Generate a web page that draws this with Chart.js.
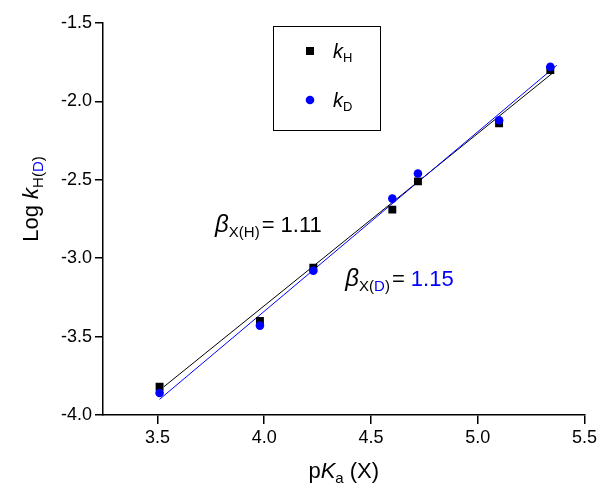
<!DOCTYPE html>
<html>
<head>
<meta charset="utf-8">
<script src="https://cdn.jsdelivr.net/npm/chart.js@4/dist/chart.umd.min.js"></script>
<style>
html,body{margin:0;padding:0;background:#fff;}
#wrap{width:600px;height:484px;position:relative;}
</style>
</head>
<body>
<div id="wrap"><canvas id="c" width="600" height="484"></canvas></div>
<script>
// Data
const pKa   = [3.51, 3.98, 4.23, 4.60, 4.72, 5.10, 5.34];
const logkH = [-3.82, -3.40, -3.06, -2.69, -2.51, -2.14, -1.80];
const logkD = [-3.86, -3.43, -3.08, -2.62, -2.46, -2.12, -1.78];
// fitted lines (endpoints)
const fitHx = [3.53, 5.35];
const fitHy = [-3.82, -1.82];
const fitDx = [3.51, 5.37];
const fitDy = [-3.90, -1.77];
const xTicks = [3.5, 4.0, 4.5, 5.0, 5.5];
const yTicks = [-4.0, -3.5, -3.0, -2.5, -2.0, -1.5];
const betaH = "1.11";
const betaD = "1.15";

const BLUE = '#0000ff';
const FONT = "'Liberation Sans', Arial, sans-serif";

function pts(xs, ys){ return xs.map((x,i)=>({x:x, y:ys[i]})); }

function drawRuns(ctx, x, y, runs){
  let cx = x;
  for (const r of runs){
    ctx.font = (r.italic ? 'italic ' : '') + r.size + 'px ' + FONT;
    ctx.fillStyle = r.color || '#000';
    ctx.textBaseline = 'alphabetic';
    ctx.textAlign = 'left';
    ctx.fillText(r.t, cx, y + (r.dy || 0));
    cx += ctx.measureText(r.t).width + (r.gap || 0);
  }
  return cx - x;
}
function runsWidth(ctx, runs){
  let w = 0;
  for (const r of runs){
    ctx.font = (r.italic ? 'italic ' : '') + r.size + 'px ' + FONT;
    w += ctx.measureText(r.t).width + (r.gap || 0);
  }
  return w;
}

const textPlugin = {
  id: 'textPlugin',
  afterDraw(chart){
    const ctx = chart.ctx;
    const xs = chart.scales.x, ys = chart.scales.y;
    const ca = chart.chartArea;
    ctx.save();
    // X title
    const xt = [
      {t:'p', size:22},
      {t:'K', size:22, italic:true},
      {t:'a', size:15, dy:5, gap:6},
      {t:'(X)', size:22}
    ];
    const wx = runsWidth(ctx, xt);
    drawRuns(ctx, (ca.left+ca.right)/2 - wx/2, 478, xt);

    // Y title (rotated)
    const yt = [
      {t:'Log ', size:22},
      {t:'k', size:22, italic:true},
      {t:'H(', size:15, dy:5},
      {t:'D', size:15, dy:5, color:BLUE},
      {t:')', size:15, dy:5}
    ];
    const wy = runsWidth(ctx, yt);
    ctx.save();
    ctx.translate(38, 199);
    ctx.rotate(-Math.PI/2);
    drawRuns(ctx, -wy/2, 0, yt);
    ctx.restore();

    // Beta annotations
    drawRuns(ctx, xs.getPixelForValue(3.77), ys.getPixelForValue(-2.83), [
      {t:'\u03B2', size:24, italic:true},
      {t:'X(H)', size:15, dy:5, gap:2},
      {t:'= ', size:22},
      {t:betaH, size:22}
    ]);
    drawRuns(ctx, xs.getPixelForValue(4.38), ys.getPixelForValue(-3.18), [
      {t:'\u03B2', size:24, italic:true},
      {t:'X(', size:15, dy:5},
      {t:'D', size:15, dy:5, color:BLUE},
      {t:')', size:15, dy:5, gap:2},
      {t:'= ', size:22},
      {t:betaD, size:22, color:BLUE}
    ]);

    // Legend box
    ctx.strokeStyle = '#000';
    ctx.lineWidth = 1;
    ctx.strokeRect(273.5, 26.5, 107, 104);
    ctx.fillStyle = '#000';
    ctx.fillRect(306, 47, 8, 8);
    ctx.fillStyle = BLUE;
    ctx.beginPath(); ctx.arc(310, 100, 4.3, 0, Math.PI*2); ctx.fill();
    drawRuns(ctx, 333, 58, [{t:'k', size:20, italic:true},{t:'H', size:13, dy:4}]);
    drawRuns(ctx, 333, 107, [{t:'k', size:20, italic:true},{t:'D', size:13, dy:4}]);
    ctx.restore();
  }
};

Chart.defaults.font.family = FONT;
Chart.defaults.color = '#000';

new Chart(document.getElementById('c'), {
  type: 'scatter',
  data: {
    datasets: [
      { label:'fitH', data: pts(fitHx, fitHy), showLine:true, borderColor:'#000', borderWidth:1, pointRadius:0, order:3 },
      { label:'fitD', data: pts(fitDx, fitDy), showLine:true, borderColor:BLUE, borderWidth:1, pointRadius:0, order:2 },
      { label:'kH', data: pts(pKa, logkH), pointStyle:'rect', pointRadius:5.6, backgroundColor:'#000', borderColor:'#000', borderWidth:0, order:1 },
      { label:'kD', data: pts(pKa, logkD), pointStyle:'circle', pointRadius:4.3, backgroundColor:BLUE, borderColor:BLUE, borderWidth:0, order:0 }
    ]
  },
  options: {
    responsive: false,
    animation: false,
    layout: { padding: { left:0, right:12, top:23, bottom:0 } },
    plugins: { legend:{display:false}, tooltip:{enabled:false} },
    scales: {
      x: {
        type:'linear', min:3.245, max:5.5,
        afterBuildTicks(s){ s.ticks = xTicks.map(v=>({value:v})); },
        afterFit(s){ s.height = 69; },
        grid: { drawOnChartArea:false, drawTicks:true, tickLength:9, color:'#000', lineWidth:1.5 },
        border: { display:true, color:'#000', width:1.5 },
        ticks: { font:{size:18}, color:'#000', padding:3, maxRotation:0,
          callback:(v)=>Number(v).toFixed(1) }
      },
      y: {
        type:'linear', min:-4.0, max:-1.5,
        afterBuildTicks(s){ s.ticks = yTicks.map(v=>({value:v})); },
        afterFit(s){ s.width = 103; },
        grid: { drawOnChartArea:false, drawTicks:true, tickLength:8, color:'#000', lineWidth:1.5 },
        border: { display:true, color:'#000', width:1.5 },
        ticks: { font:{size:18}, color:'#000', padding:3,
          callback:(v)=>Number(v).toFixed(1) }
      }
    }
  },
  plugins: [textPlugin]
});
</script>
</body>
</html>
